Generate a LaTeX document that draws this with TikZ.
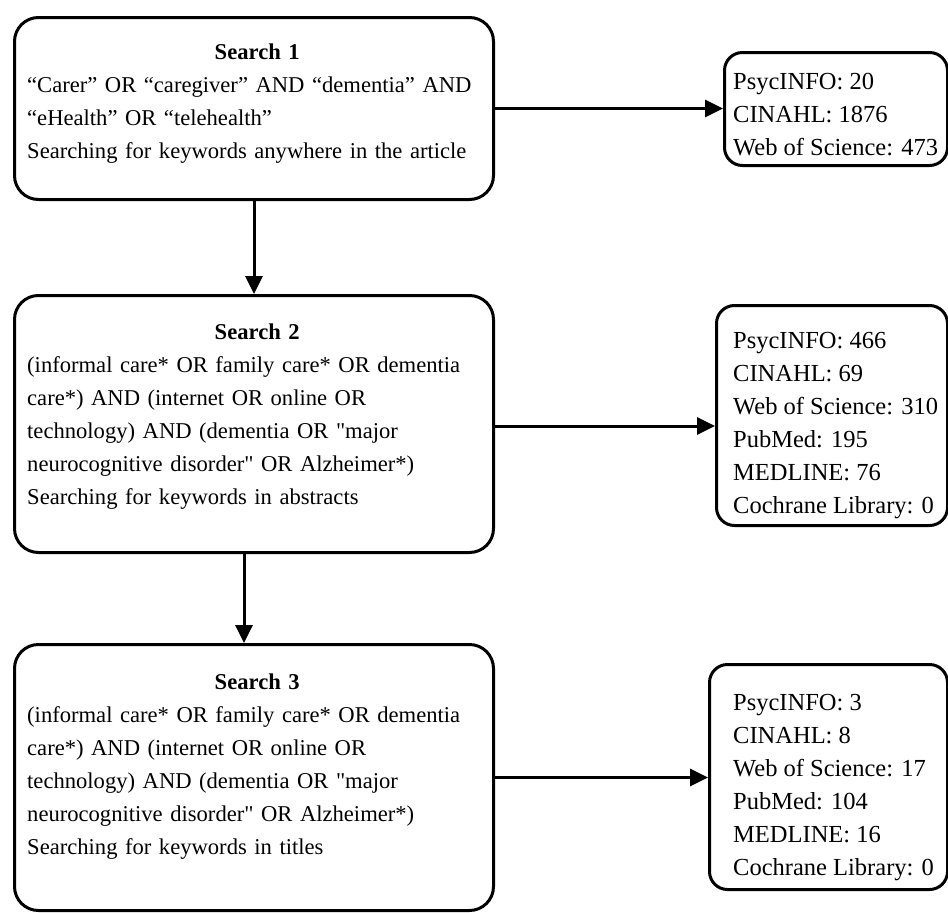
\documentclass[tikz,border=0pt]{standalone}
\usepackage{fontspec}
\setmainfont{Liberation Serif}[Ligatures=TeXOff]
\usetikzlibrary{arrows.meta}
\begin{document}
\begin{tikzpicture}[x=1pt,y=-1pt,
  sbox/.style={draw, line width=3pt, rounded corners=24pt, minimum width=479pt, anchor=north west, inner sep=0pt},
  rbox/.style={draw, line width=3pt, rounded corners=18pt, anchor=north west, inner sep=0pt},
  stxt/.style={anchor=north west, inner sep=0pt, text width=460pt, align=left, font=\fontsize{22.6}{33}\selectfont},
  rtxt/.style={anchor=north west, inner sep=0pt, align=left, font=\fontsize{24.5}{33}\selectfont},
  conn/.style={line width=3pt, -{Triangle[length=18pt,width=17pt]}}]
\useasboundingbox (0,0) rectangle (948,913);
% search boxes
\node[sbox, minimum height=182pt] (b1) at (13,16) {};
\node[sbox, minimum height=257pt] (b2) at (13,294) {};
\node[sbox, minimum height=266pt] (b3) at (13,643) {};
% result boxes
\node[rbox, minimum width=223pt, minimum height=113pt] (r1) at (723,51) {};
\node[rbox, minimum width=231pt, minimum height=220pt] (r2) at (715,304) {};
\node[rbox, minimum width=238pt, minimum height=225pt] (r3) at (708,663) {};
% texts
\node[stxt] (t1) at (27,44) {\centering\textbf{Search 1}\par\raggedright
“Carer” OR “caregiver” AND “dementia” AND\\
“eHealth” OR “telehealth”\\
Searching for keywords anywhere in the article};
\node[stxt] (t2) at (27,324) {\centering\textbf{Search 2}\par\raggedright
(informal care* OR family care* OR dementia\\
care*) AND (internet OR online OR\\
technology) AND (dementia OR "major\\
neurocognitive disorder" OR Alzheimer*)\\
Searching for keywords in abstracts};
\node[stxt] (t3) at (27,674) {\centering\textbf{Search 3}\par\raggedright
(informal care* OR family care* OR dementia\\
care*) AND (internet OR online OR\\
technology) AND (dementia OR "major\\
neurocognitive disorder" OR Alzheimer*)\\
Searching for keywords in titles};
\node[rtxt] (u1) at (733,73.5) {PsycINFO: 20\\ CINAHL: 1876\\ Web of Science: 473};
\node[rtxt] (u2) at (733,332.5) {PsycINFO: 466\\ CINAHL: 69\\ Web of Science: 310\\ PubMed: 195\\ MEDLINE: 76\\ Cochrane Library: 0};
\node[rtxt] (u3) at (733,694.5) {PsycINFO: 3\\ CINAHL: 8\\ Web of Science: 17\\ PubMed: 104\\ MEDLINE: 16\\ Cochrane Library: 0};
% connectors
\draw[conn] (b1.east) -- (b1.east -| r1.west);
\draw[conn] (b1.south) -- (b2.north);
\draw[conn] ([xshift=-10pt]b2.south) -- ([xshift=-10pt]b2.south |- b3.north);
\draw[conn] ([yshift=-2pt]b2.east) -- ([yshift=-2pt]b2.east -| r2.west);
\draw[conn] (b3.east) -- (b3.east -| r3.west);
\end{tikzpicture}
\end{document}
